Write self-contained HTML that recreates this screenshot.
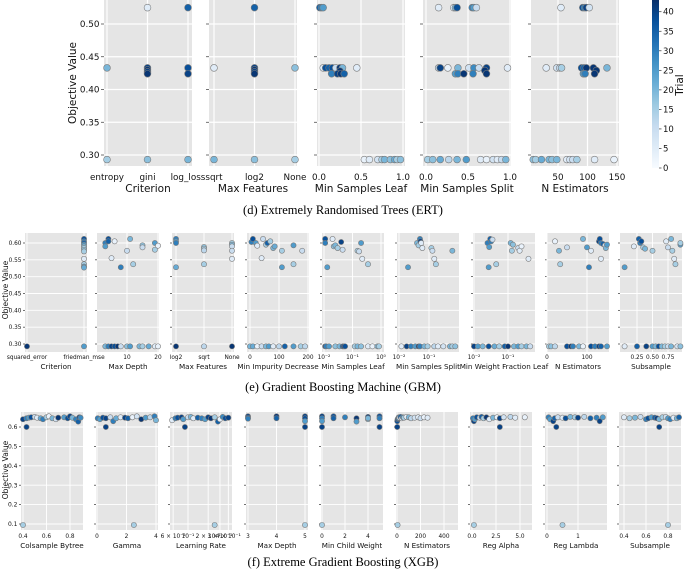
<!DOCTYPE html>
<html><head><meta charset="utf-8">
<style>
html,body{margin:0;padding:0;background:#fff;}
svg{display:block;font-family:"DejaVu Sans","Liberation Sans",sans-serif;}
.cap{font-family:"Liberation Serif",serif;}
</style></head>
<body>
<svg id="fig" width="685" height="572" viewBox="0 0 685 572">
<defs>
<linearGradient id="blues" x1="0" y1="1" x2="0" y2="0">
<stop offset="0" stop-color="#f7fbff"/><stop offset="0.125" stop-color="#deebf7"/><stop offset="0.25" stop-color="#c6dbef"/><stop offset="0.375" stop-color="#9ecae1"/><stop offset="0.5" stop-color="#6baed6"/><stop offset="0.625" stop-color="#4292c6"/><stop offset="0.75" stop-color="#2171b5"/><stop offset="0.875" stop-color="#08519c"/><stop offset="1" stop-color="#08306b"/>
</linearGradient>
</defs>
<text class="cap" x="343" y="214" text-anchor="middle" font-size="12.5">(d) Extremely Randomised Trees (ERT)</text>
<text class="cap" x="343" y="391" text-anchor="middle" font-size="12.5">(e) Gradient Boosting Machine (GBM)</text>
<text class="cap" x="343" y="566" text-anchor="middle" font-size="12.5">(f) Extreme Gradient Boosting (XGB)</text>
</svg>
<script>
// ===== ERT data =====
const ertCritCats=["entropy","gini","log_loss"];
const ertCritX=["entropy","entropy","gini","gini","gini","gini","gini","gini","log_loss","log_loss","log_loss","log_loss"];
const ertCritY=[0.433,0.293,0.525,0.433,0.430,0.427,0.424,0.293,0.525,0.433,0.424,0.293];
const ertCritT=[20,15,5,40,42,40,42,18,35,38,40,20];
const ertFeatCats=["sqrt","log2","None"];
const ertFeatX=["sqrt","sqrt","log2","log2","log2","log2","log2","log2","None","None"];
const ertFeatY=[0.433,0.293,0.525,0.433,0.430,0.427,0.424,0.293,0.433,0.293];
const ertFeatT=[5,20,35,40,42,40,42,18,18,15];
const ertLeafX=[0.01,0.03,0.05,0.05,0.08,0.12,0.16,0.20,0.25,0.28,0.45,0.25,0.15,0.22,0.26,0.30,0.54,0.60,0.70,0.75,0.78,0.85,0.90,0.93,0.97];
const ertLeafY=[0.525,0.525,0.525,0.433,0.433,0.433,0.433,0.433,0.433,0.433,0.433,0.428,0.424,0.424,0.424,0.424,0.293,0.293,0.293,0.293,0.293,0.293,0.293,0.293,0.293];
const ertLeafT=[35,30,25,5,38,35,38,10,42,20,5,42,30,40,42,35,3,5,8,15,20,18,22,15,18];
const ertSplitX=[0.15,0.33,0.35,0.37,0.55,0.57,0.60,0.15,0.17,0.26,0.38,0.51,0.57,0.63,0.72,0.97,0.70,0.35,0.38,0.45,0.56,0.72,0.02,0.08,0.17,0.27,0.37,0.48,0.65,0.72,0.80,0.85,0.90,0.95];
const ertSplitY=[0.525,0.525,0.525,0.525,0.525,0.525,0.525,0.433,0.433,0.433,0.433,0.433,0.433,0.433,0.433,0.433,0.429,0.424,0.424,0.424,0.424,0.424,0.293,0.293,0.293,0.293,0.293,0.293,0.293,0.293,0.293,0.293,0.293,0.293];
const ertSplitT=[5,5,20,38,30,25,10,12,40,3,20,8,28,10,40,5,42,25,30,42,30,42,15,18,22,12,20,25,5,3,8,5,10,20];
const ertEstX=[55,92,95,98,103,30,48,53,56,90,94,98,110,133,115,93,96,112,8,12,22,35,40,48,65,70,75,82,112,145];
const ertEstY=[0.525,0.525,0.525,0.525,0.525,0.433,0.433,0.433,0.433,0.433,0.433,0.433,0.433,0.433,0.429,0.424,0.424,0.424,0.293,0.293,0.293,0.293,0.293,0.293,0.293,0.293,0.293,0.293,0.293,0.293];
const ertEstT=[5,38,30,40,8,5,8,10,15,38,35,42,42,20,42,25,30,42,18,15,22,20,18,20,5,8,10,15,5,3];
const ertYTicks=[0.30,0.35,0.40,0.45,0.50];
// ===== GBM data =====
const gbmCritCats=["squared_error","friedman_mse"];
const gbmCritX=["squared_error","friedman_mse","friedman_mse","friedman_mse","friedman_mse","friedman_mse","friedman_mse","friedman_mse","friedman_mse","friedman_mse","friedman_mse","friedman_mse","friedman_mse","friedman_mse"];
const gbmCritY=[0.293,0.612,0.605,0.600,0.595,0.590,0.585,0.580,0.575,0.553,0.537,0.530,0.527,0.293];
const gbmCritT=[42,38,30,35,25,20,15,18,15,5,15,25,22,25];
const gbmDepthX=[3,3,4,4,5,6,10,11,12,8,15,15,19,19,20,3,4,5,6,7,8,10,11,14,15,17,19,20];
const gbmDepthY=[0.600,0.590,0.612,0.605,0.555,0.605,0.577,0.612,0.537,0.528,0.593,0.587,0.600,0.580,0.592,0.293,0.293,0.293,0.293,0.293,0.293,0.293,0.293,0.293,0.293,0.293,0.293,0.293];
const gbmDepthT=[30,25,38,35,5,3,10,20,15,30,18,10,25,15,3,20,30,40,38,42,10,18,25,20,15,22,5,3];
const gbmFeatCats=["log2","sqrt","None"];
const gbmFeatX=["log2","log2","log2","log2","log2","sqrt","sqrt","sqrt","sqrt","sqrt","None","None","None","None","None","None"];
const gbmFeatY=[0.612,0.605,0.600,0.528,0.293,0.588,0.583,0.578,0.537,0.293,0.600,0.595,0.590,0.577,0.553,0.293];
const gbmFeatT=[30,25,30,22,42,18,15,12,15,12,15,20,10,10,5,42];
const gbmImpX=[5,10,20,25,40,45,55,60,70,80,85,110,110,150,150,180,0,10,25,40,55,65,80,100,120,150,175,190];
const gbmImpY=[0.603,0.612,0.600,0.592,0.555,0.612,0.595,0.600,0.605,0.585,0.590,0.577,0.528,0.593,0.537,0.577,0.293,0.293,0.293,0.293,0.293,0.293,0.293,0.293,0.293,0.293,0.293,0.293];
const gbmImpT=[30,38,25,5,5,10,15,35,15,20,22,15,25,25,15,10,20,22,3,10,20,25,5,12,35,25,15,12];
const gbmLeafX=[0.011,0.011,0.013,0.02,0.022,0.025,0.03,0.04,0.045,0.15,0.17,0.2,0.22,0.35,0.011,0.012,0.015,0.025,0.035,0.045,0.05,0.055,0.12,0.15,0.2,0.35,0.5,0.75,0.85];
const gbmLeafY=[0.612,0.600,0.528,0.612,0.590,0.593,0.585,0.603,0.580,0.577,0.575,0.600,0.553,0.537,0.293,0.293,0.293,0.293,0.293,0.293,0.293,0.293,0.293,0.293,0.293,0.293,0.293,0.293,0.293];
const gbmLeafT=[38,30,25,5,18,20,15,40,10,15,10,25,5,15,40,30,25,18,20,35,42,38,15,20,18,5,3,20,15];
const gbmSplitX=[0.02,0.04,0.045,0.05,0.052,0.055,0.06,0.12,0.13,0.15,0.17,0.6,0.012,0.018,0.025,0.035,0.045,0.05,0.07,0.09,0.15,0.2,0.3,0.5,0.6,0.75];
const gbmSplitY=[0.528,0.600,0.593,0.612,0.605,0.600,0.585,0.585,0.577,0.553,0.537,0.577,0.293,0.293,0.293,0.293,0.293,0.293,0.293,0.293,0.293,0.293,0.293,0.293,0.293,0.293];
const gbmSplitT=[25,20,15,30,40,5,5,15,10,5,15,20,5,40,30,25,42,30,20,15,12,5,8,20,15,18];
const gbmWfX=[0.025,0.028,0.03,0.032,0.035,0.027,0.045,0.12,0.13,0.14,0.2,0.22,0.25,0.4,0.01,0.013,0.018,0.027,0.04,0.055,0.08,0.1,0.15,0.2,0.25,0.35,0.45];
const gbmWfY=[0.600,0.588,0.612,0.605,0.610,0.528,0.537,0.600,0.577,0.595,0.585,0.577,0.590,0.553,0.293,0.293,0.293,0.293,0.293,0.293,0.293,0.293,0.293,0.293,0.293,0.293,0.293];
const gbmWfT=[30,25,35,30,10,25,15,20,15,18,10,5,3,5,40,25,20,38,22,15,35,42,20,25,15,20,10];
const gbmEstX=[20,30,33,50,90,100,105,110,130,132,135,135,140,145,147,150,5,10,20,50,60,65,80,90,110,120,130,135,150];
const gbmEstY=[0.605,0.577,0.537,0.587,0.612,0.587,0.528,0.577,0.605,0.612,0.600,0.553,0.597,0.593,0.585,0.595,0.293,0.293,0.293,0.293,0.293,0.293,0.293,0.293,0.293,0.293,0.293,0.293,0.293];
const gbmEstT=[3,20,15,10,20,25,30,5,40,38,30,5,35,10,20,25,15,18,12,38,42,30,20,3,38,30,40,35,25];
const gbmSubX=[0.05,0.2,0.28,0.3,0.32,0.35,0.38,0.5,0.72,0.75,0.8,0.82,0.85,0.87,0.95,0.95,0.05,0.25,0.4,0.5,0.55,0.6,0.65,0.7,0.75,0.8,0.9,0.95];
const gbmSubY=[0.528,0.590,0.612,0.600,0.605,0.587,0.583,0.577,0.605,0.587,0.612,0.577,0.553,0.537,0.595,0.600,0.293,0.293,0.293,0.293,0.293,0.293,0.293,0.293,0.293,0.293,0.293,0.293];
const gbmSubT=[25,5,35,30,38,15,20,15,5,10,20,15,5,15,25,15,5,35,40,25,20,38,20,15,10,20,8,18];
const gbmYTicks=[0.30,0.35,0.40,0.45,0.50,0.55,0.60];
// ===== XGB data =====
const xgbColX=[0.40,0.43,0.45,0.47,0.50,0.52,0.55,0.57,0.60,0.62,0.65,0.68,0.70,0.75,0.78,0.80,0.82,0.85,0.87,0.88,0.89,0.43,0.40];
const xgbColY=[0.640,0.645,0.648,0.650,0.652,0.648,0.645,0.640,0.650,0.655,0.645,0.640,0.648,0.650,0.645,0.655,0.648,0.640,0.628,0.650,0.648,0.600,0.095];
const xgbColT=[40,30,25,38,10,5,22,30,15,3,20,8,42,25,38,40,20,30,35,40,28,40,15];
const xgbGamX=[0.05,0.2,0.4,0.6,0.9,1.1,1.3,1.6,1.9,2.1,2.4,2.7,3.0,3.3,3.6,3.9,4.0,0.6,2.5];
const xgbGamY=[0.645,0.640,0.648,0.645,0.650,0.630,0.645,0.650,0.648,0.645,0.650,0.655,0.640,0.648,0.650,0.655,0.635,0.600,0.095];
const xgbGamT=[30,25,38,40,10,30,22,5,40,35,3,8,42,25,12,30,20,40,15];
const xgbLrX=[0.058,0.065,0.07,0.08,0.085,0.1,0.11,0.12,0.14,0.16,0.18,0.2,0.22,0.25,0.28,0.3,0.33,0.36,0.4,0.09,0.25];
const xgbLrY=[0.635,0.645,0.648,0.650,0.640,0.650,0.652,0.645,0.648,0.645,0.640,0.650,0.645,0.650,0.628,0.640,0.652,0.645,0.648,0.600,0.095];
const xgbLrT=[5,30,38,40,25,10,20,5,35,30,25,40,42,15,35,3,28,38,40,40,15];
const xgbDepX=[3,3,3,4,4,5,5,5,5,5];
const xgbDepY=[0.655,0.648,0.643,0.655,0.645,0.655,0.645,0.630,0.600,0.095];
const xgbDepT=[40,38,30,42,35,40,38,25,40,15];
const xgbMcwX=[0,0,0,1,1,2,3,3,4,4,4,5,5,0,5,0];
const xgbMcwY=[0.655,0.645,0.630,0.655,0.645,0.650,0.645,0.628,0.652,0.640,0.645,0.655,0.645,0.600,0.600,0.095];
const xgbMcwT=[40,30,25,38,35,30,42,25,40,15,20,38,30,40,40,15];
const xgbEstX=[2,5,10,15,20,30,40,50,60,80,100,120,150,180,200,230,260,2,5];
const xgbEstY=[0.630,0.640,0.645,0.650,0.648,0.652,0.645,0.650,0.648,0.652,0.650,0.645,0.648,0.650,0.645,0.650,0.648,0.600,0.095];
const xgbEstT=[38,40,30,25,10,35,5,28,15,3,20,12,8,5,10,3,5,40,15];
const xgbRaX=[0.1,0.2,0.3,0.5,0.8,1.0,1.2,1.5,1.8,2.2,2.6,2.9,3.3,4.0,4.5,5.5,2.9,0.2];
const xgbRaY=[0.645,0.630,0.640,0.650,0.648,0.652,0.645,0.650,0.640,0.648,0.650,0.645,0.650,0.652,0.648,0.650,0.600,0.095];
const xgbRaT=[30,40,25,38,10,35,15,42,5,20,3,40,8,12,5,3,40,15];
const xgbRlX=[0.05,0.1,0.2,0.25,0.35,0.5,0.6,0.75,0.9,1.0,1.2,1.4,1.6,1.7,1.8,0.3,0.5];
const xgbRlY=[0.650,0.640,0.630,0.645,0.650,0.648,0.645,0.652,0.650,0.648,0.652,0.645,0.648,0.630,0.650,0.600,0.095];
const xgbRlT=[30,25,40,35,10,5,38,20,15,40,12,35,30,40,25,40,15];
const xgbSubX=[0.4,0.45,0.5,0.55,0.6,0.62,0.65,0.68,0.7,0.72,0.75,0.78,0.8,0.82,0.85,0.88,0.9,0.72,0.8];
const xgbSubY=[0.650,0.645,0.648,0.652,0.640,0.645,0.650,0.648,0.645,0.640,0.650,0.652,0.645,0.640,0.648,0.645,0.650,0.600,0.095];
const xgbSubT=[5,15,20,10,30,38,25,35,40,20,15,8,25,30,5,20,35,40,15];
const xgbYTicks=[0.1,0.2,0.3,0.4,0.5,0.6];
const trialTicks=[0,5,10,15,20,25,30,35,40];
const trialMax=43;

const NS="http://www.w3.org/2000/svg";
const svg=document.getElementById('fig');
function mk(tag,attrs,parent){const e=document.createElementNS(NS,tag);for(const k in attrs)e.setAttribute(k,attrs[k]);(parent||svg).appendChild(e);return e;}
const stops=[[0,[247,251,255]],[0.125,[222,235,247]],[0.25,[198,219,239]],[0.375,[158,202,225]],[0.5,[107,174,214]],[0.625,[66,146,198]],[0.75,[33,113,181]],[0.875,[8,81,156]],[1,[8,48,107]]];
function blues(t){t=Math.max(0,Math.min(1,t));for(let i=1;i<stops.length;i++){if(t<=stops[i][0]){const a=stops[i-1],b=stops[i];const f=(t-a[0])/(b[0]-a[0]);const c=a[1].map((v,j)=>Math.round(v+(b[1][j]-v)*f));return `rgb(${c[0]},${c[1]},${c[2]})`;}}return 'rgb(8,48,107)';}
function lin(a,b){return v=>a[1]+(v-a[0])*(b[1]-a[1])/(b[0]-a[0]);}
function logs(a,b){return v=>a[1]+(Math.log10(v)-Math.log10(a[0]))*(b[1]-a[1])/(Math.log10(b[0])-Math.log10(a[0]));}
function cat(cats,p0,p1){return v=>p0+cats.indexOf(v)*(p1-p0)/(cats.length-1);}

function panel(P){
  const ys=lin(P.ya,P.yb);
  P.subs.forEach((s,si)=>{
    const g=mk('g',{});
    
    
    const bg=mk('rect',{x:s.x0,y:P.top,width:P.w,height:P.bot-P.top,fill:'#e5e5e5'},g);
    
    
    P.yt.forEach(v=>{
      const y=ys(v);
      mk('line',{x1:s.x0,x2:s.x0+P.w,y1:y,y2:y,stroke:'#fff','stroke-width':P.gw},g);
      mk('line',{x1:s.x0-P.tl,x2:s.x0,y1:y,y2:y,stroke:'#333','stroke-width':0.7},g);
      if(si===0){const t=mk('text',{x:s.x0-P.tl-1.5,y:y+P.yfs*0.35,'text-anchor':'end','font-size':P.yfs,fill:'#111'},g);t.textContent=v.toFixed(P.dec);
        
        }
    });
    s.ticks.forEach((v,i)=>{
      const x=s.xs(v);
      if(s.grid!==false) mk('line',{x1:x,x2:x,y1:P.top,y2:P.bot,stroke:'#fff','stroke-width':P.gw},g);
      const t=mk('text',{x:x,y:P.tky,'text-anchor':'middle','font-size':P.tfs,fill:'#111'},g);
      t.textContent=s.labels[i];
      
      
    });
    const tt=mk('text',{x:s.x0+P.w/2,y:P.tty,'text-anchor':'middle','font-size':P.ttfs,fill:'#111'},g);
    tt.textContent=s.title;
    
    
    s.T.forEach((tv,i)=>{
      const c=mk('circle',{cx:s.xs(s.X[i]),cy:ys(s.Y[i]),r:P.r,fill:blues(s.T[i]/trialMax),stroke:'#7a7a7a','stroke-width':0.6},g);
      
      
    });
  });
  const yl=mk('text',{x:P.ylx,y:P.yly,'text-anchor':'middle','font-size':P.ylfs,fill:'#111',transform:`rotate(-90 ${P.ylx} ${P.yly})`});
  yl.textContent='Objective Value';
  
  
}

// ERT
panel({key:'ert',top:0,bot:166,ya:[0.5,24],yb:[0.3,155],yt:ertYTicks,dec:2,w:88,gw:1.2,tl:3,yfs:8.8,tfs:8.8,ttfs:10.5,tky:180,tty:192,r:3.4,ylx:76,yly:83,ylfs:10.5,
subs:[
 {name:'criterion',x0:104,xs:cat(ertCritCats,107,188),ticks:ertCritCats,labels:ertCritCats,title:'Criterion',X:ertCritX,Y:ertCritY,T:ertCritT},
 {name:'max-features',x0:209,xs:cat(ertFeatCats,214,295),ticks:ertFeatCats,labels:ertFeatCats,title:'Max Features',X:ertFeatX,Y:ertFeatY,T:ertFeatT},
 {name:'min-samples-leaf',x0:317,xs:lin([0,319],[1,403]),ticks:[0,0.5,1],labels:['0.0','0.5','1.0'],title:'Min Samples Leaf',X:ertLeafX,Y:ertLeafY,T:ertLeafT},
 {name:'min-samples-split',x0:423,xs:lin([0,426],[1,510]),ticks:[0,0.5,1],labels:['0.0','0.5','1.0'],title:'Min Samples Split',X:ertSplitX,Y:ertSplitY,T:ertSplitT},
 {name:'n-estimators',x0:531,xs:lin([50,558],[150,617]),ticks:[50,100,150],labels:['50','100','150'],title:'N Estimators',X:ertEstX,Y:ertEstY,T:ertEstT}
]});
// GBM
panel({key:'gbm',top:233,bot:352,ya:[0.6,243],yb:[0.3,344],yt:gbmYTicks,dec:2,w:62,gw:0.9,tl:2,yfs:5.8,tfs:5.8,ttfs:7.2,tky:359,tty:369,r:2.6,ylx:8,yly:290,ylfs:7.5,
subs:[
 {name:'criterion',x0:25,xs:cat(gbmCritCats,27,84),ticks:gbmCritCats,labels:gbmCritCats,title:'Criterion',X:gbmCritX,Y:gbmCritY,T:gbmCritT},
 {name:'max-depth',x0:97,xs:lin([10,127],[20,158]),ticks:[10,20],labels:['10','20'],title:'Max Depth',X:gbmDepthX,Y:gbmDepthY,T:gbmDepthT},
 {name:'max-features',x0:172,xs:cat(gbmFeatCats,176,232),ticks:gbmFeatCats,labels:gbmFeatCats,title:'Max Features',X:gbmFeatX,Y:gbmFeatY,T:gbmFeatT},
 {name:'min-impurity-decrease',x0:247,xs:lin([0,250],[200,308]),ticks:[0,100,200],labels:['0','100','200'],title:'Min Impurity Decrease',X:gbmImpX,Y:gbmImpY,T:gbmImpT},
 {name:'min-samples-leaf',x0:322,xs:logs([0.01,324],[1,381]),ticks:[0.01,0.1,1],labels:['10⁻²','10⁻¹','10⁰'],title:'Min Samples Leaf',X:gbmLeafX,Y:gbmLeafY,T:gbmLeafT},
 {name:'min-samples-split',x0:397,xs:logs([0.01,399],[0.1,429]),ticks:[0.01,0.1],labels:['10⁻²','10⁻¹'],title:'Min Samples Split',X:gbmSplitX,Y:gbmSplitY,T:gbmSplitT},
 {name:'min-weight-fraction-leaf',x0:473,xs:logs([0.01,474],[0.1,508]),ticks:[0.01,0.1],labels:['10⁻²','10⁻¹'],title:'Min Weight Fraction Leaf',X:gbmWfX,Y:gbmWfY,T:gbmWfT},
 {name:'n-estimators',x0:547,xs:lin([0,547],[100,587]),ticks:[0,100],labels:['0','100'],title:'N Estimators',X:gbmEstX,Y:gbmEstY,T:gbmEstT},
 {name:'subsample',x0:620,xs:lin([0.25,637],[0.75,668]),ticks:[0.25,0.5,0.75],labels:['0.25','0.50','0.75'],title:'Subsample',X:gbmSubX,Y:gbmSubY,T:gbmSubT}
]});
// XGB
panel({key:'xgb',top:412,bot:530,ya:[0.6,427],yb:[0.1,524],yt:xgbYTicks,dec:1,w:62,gw:0.9,tl:2,yfs:6,tfs:5.8,ttfs:7.2,tky:538,tty:548,r:2.6,ylx:8,yly:470,ylfs:7.5,
subs:[
 {name:'colsample-bytree',x0:21,xs:lin([0.4,23],[0.8,70]),ticks:[0.4,0.6,0.8],labels:['0.4','0.6','0.8'],title:'Colsample Bytree',X:xgbColX,Y:xgbColY,T:xgbColT},
 {name:'gamma',x0:96,xs:lin([0,97],[4,156]),ticks:[0,2,4],labels:['0','2','4'],title:'Gamma',X:xgbGamX,Y:xgbGamY,T:xgbGamT},
 {name:'learning-rate',x0:170,xs:logs([0.1,188],[1,255]),ticks:[0.06,0.1,0.2,0.3,0.4],labels:['6 × 10⁻²','10⁻¹','2 × 10⁻¹','3 × 10⁻¹','4 × 10⁻¹'],title:'Learning Rate',X:xgbLrX,Y:xgbLrY,T:xgbLrT},
 {name:'max-depth',x0:246,xs:lin([3,248],[5,305]),ticks:[3,4,5],labels:['3','4','5'],title:'Max Depth',X:xgbDepX,Y:xgbDepY,T:xgbDepT},
 {name:'min-child-weight',x0:321,xs:lin([0,322],[4,368]),ticks:[0,2,4],labels:['0','2','4'],title:'Min Child Weight',X:xgbMcwX,Y:xgbMcwY,T:xgbMcwT},
 {name:'n-estimators',x0:396,xs:lin([0,397],[400,444]),ticks:[0,200,400],labels:['0','200','400'],title:'N Estimators',X:xgbEstX,Y:xgbEstY,T:xgbEstT},
 {name:'reg-alpha',x0:470,xs:lin([0,472],[5,520]),ticks:[0,2.5,5],labels:['0.0','2.5','5.0'],title:'Reg Alpha',X:xgbRaX,Y:xgbRaY,T:xgbRaT},
 {name:'reg-lambda',x0:545,xs:lin([0,547],[1,578]),ticks:[0,1],labels:['0','1'],title:'Reg Lambda',X:xgbRlX,Y:xgbRlY,T:xgbRlT},
 {name:'subsample',x0:619,xs:lin([0.4,624],[0.8,668]),ticks:[0.4,0.6,0.8],labels:['0.4','0.6','0.8'],title:'Subsample',X:xgbSubX,Y:xgbSubY,T:xgbSubT}
]});

// Colorbar
const cbTop=0,cbBot=168,cbX=652,cbW=7;
const cb=mk('rect',{x:cbX,y:cbTop,width:cbW,height:cbBot-cbTop,fill:'url(#blues)'});


const cbs=lin([0,cbBot],[trialMax,cbTop]);
trialTicks.forEach(v=>{
  const y=cbs(v);
  mk('line',{x1:cbX+cbW,x2:cbX+cbW+2.5,y1:y,y2:y,stroke:'#333','stroke-width':0.7});
  const t=mk('text',{x:cbX+cbW+4,y:y+3,'font-size':8.5,fill:'#111'});
  t.textContent=v;
  
  
});
const tl=mk('text',{x:683,y:85,'text-anchor':'middle','font-size':10.5,fill:'#111',transform:'rotate(-90 683 85)'});
tl.textContent='Trial';


</script>
</body></html>
